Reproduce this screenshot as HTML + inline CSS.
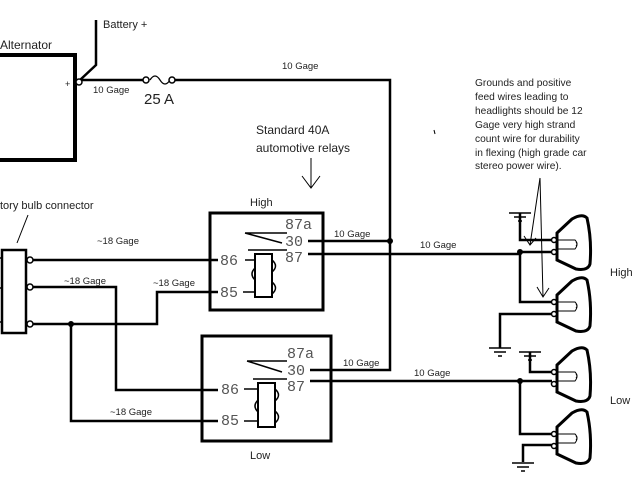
<!DOCTYPE html>
<html><head><style>body{margin:0;background:#fff}svg{display:block}text{font-family:"Liberation Sans",sans-serif;fill:#222}.m text{font-family:"Liberation Mono",monospace;fill:#555}</style></head><body>
<svg width="640" height="480" viewBox="0 0 640 480" xmlns="http://www.w3.org/2000/svg">
<defs>
<g id="lamp" fill="none" stroke="#000">
<path d="M557,233 L572,219 Q582,213 587,218 Q592,240 590,264 Q588,271 576,269 L557,260 Z" stroke-width="3"/>
<circle cx="554" cy="240" r="2.5" stroke-width="1.5" fill="#fff"/>
<circle cx="554" cy="252" r="2.5" stroke-width="1.5" fill="#fff"/>
<path d="M557,240 H575 Q579,244 575,249 H557" stroke-width="1"/>
<path d="M576,242 q2,2 0,4" stroke-width="1"/>
</g>
<g id="gnd" stroke="#000" stroke-width="1.5"><line x1="-11" y1="0" x2="11" y2="0"/><line x1="-6" y1="4" x2="6" y2="4"/><line x1="-2" y1="8" x2="2" y2="8"/></g>
</defs>
<g fill="none" stroke="#000" stroke-width="2.5">
<path d="M-5,55 H75 V160 H-5" stroke-width="4"/>
<path d="M96,20 V65 L80,80"/>
<path d="M80,80 H145"/>
<path d="M150,80 q5,-8 10,0 q5,8 10,0" stroke-width="1.2"/>
<path d="M174,80 H390 V370 H310"/>
<rect x="2" y="250" width="24" height="83"/>
<path d="M-5,258 H2 M-5,288 H2 M-5,322 H2" stroke-width="1.5"/>
<path d="M17,243 L28,215" stroke-width="1"/>
<path d="M33,260 H218"/>
<path d="M33,287 H116 V390 H218"/>
<path d="M33,324 H157 V292 H218"/>
<path d="M71,324 V421 H218"/>
<rect x="210" y="213" width="113" height="97" stroke-width="3"/>
<path d="M308,241 H390"/>
<path d="M308,254 H520"/>
<rect x="255" y="254" width="17" height="43" stroke-width="2"/>
<path d="M245,260 H255 M243,292 H255" stroke-width="1.5"/>
<path d="M272,260 q7,6 0,12 M272,282 q7,6 0,12" stroke-width="1.5"/>
<path d="M255,268 q-6,6 0,12" stroke-width="1.5"/>
<path d="M245,233 H287 M245,233 L282,243 M248,250 H287" stroke-width="1.5"/>
<rect x="202" y="336" width="129" height="105" stroke-width="3"/>
<path d="M310,381 H520"/>
<rect x="258" y="383" width="17" height="44" stroke-width="2"/>
<path d="M244,389 H258 M244,421 H258" stroke-width="1.5"/>
<path d="M275,389 q7,6 0,12 M275,411 q7,6 0,12 M258,400 q-6,6 0,12" stroke-width="1.5"/>
<path d="M247,361 H287 M247,361 L282,372 M253,379 H287" stroke-width="1.5"/>
<path d="M520,252 H552 M520,252 V302 H552"/>
<path d="M520,213 V240 H552"/>
<path d="M552,314 H500 V348"/>
<path d="M530,352 V372 H552"/>
<path d="M520,381 H552 M520,381 V434 H552"/>
<path d="M552,445 H523 V462"/>
<path d="M311,158 V188 M302,176 L311,188 L320,176" stroke-width="1"/>
<path d="M540,178 L530,245 M524,236 L530,245 L536,238" stroke-width="1"/>
<path d="M540,178 L543,297 M537,287 L543,297 L549,288" stroke-width="1"/>
<path d="M434,130 L435,134" stroke-width="1"/>
</g>
<g fill="#000"><circle cx="390" cy="241" r="3"/><circle cx="71" cy="324" r="3"/><circle cx="520" cy="252" r="3"/><circle cx="520" cy="381" r="3"/></g>
<g fill="#fff" stroke="#000" stroke-width="1.5"><circle cx="79" cy="82" r="3"/><circle cx="146" cy="80" r="3"/><circle cx="172" cy="80" r="3"/><circle cx="30" cy="260" r="3"/><circle cx="30" cy="287" r="3"/><circle cx="30" cy="324" r="3"/></g>
<use href="#gnd" x="520" y="213"/><use href="#gnd" x="500" y="348"/><use href="#gnd" x="530" y="352"/><use href="#gnd" x="523" y="463"/>
<use href="#lamp"/><use href="#lamp" y="62"/><use href="#lamp" y="132"/><use href="#lamp" y="194"/>
<g font-size="11">
<text x="103" y="28">Battery +</text>
<text x="0" y="49" font-size="12">Alternator</text>
<text x="65" y="87" font-size="9">+</text>
<text x="93" y="93" font-size="9.5">10 Gage</text>
<text x="144" y="104" font-size="15">25 A</text>
<text x="282" y="69" font-size="9.5">10 Gage</text>
<text x="256" y="134" font-size="12">Standard 40A</text>
<text x="256" y="152" font-size="12">automotive relays</text>
<text x="0" y="209">tory bulb connector</text>
<text x="250" y="206">High</text>
<text x="250" y="459">Low</text>
<text x="97" y="244" font-size="9.5">~18 Gage</text>
<text x="64" y="284" font-size="9.5">~18 Gage</text>
<text x="153" y="286" font-size="9.5">~18 Gage</text>
<text x="110" y="415" font-size="9.5">~18 Gage</text>
<text x="334" y="237" font-size="9.5">10 Gage</text>
<text x="343" y="366" font-size="9.5">10 Gage</text>
<text x="420" y="248" font-size="9.5">10 Gage</text>
<text x="414" y="376" font-size="9.5">10 Gage</text>
<text x="610" y="276">High</text>
<text x="610" y="404">Low</text>
<g font-size="10.2"><text x="475" y="86">Grounds and positive</text><text x="475" y="100">feed wires leading to</text><text x="475" y="114">headlights should be  12</text><text x="475" y="128">Gage very high strand</text><text x="475" y="142">count wire for durability</text><text x="475" y="156">in flexing (high grade car</text><text x="475" y="169">stereo power wire).</text></g>
</g>
<g class="m" font-size="15"><text x="285" y="229">87a</text><text x="285" y="246">30</text><text x="285" y="262">87</text><text x="220" y="265">86</text><text x="220" y="297">85</text>
<text x="287" y="358">87a</text><text x="287" y="375">30</text><text x="287" y="391">87</text><text x="221" y="394">86</text><text x="221" y="425">85</text></g>
</svg>
</body></html>
